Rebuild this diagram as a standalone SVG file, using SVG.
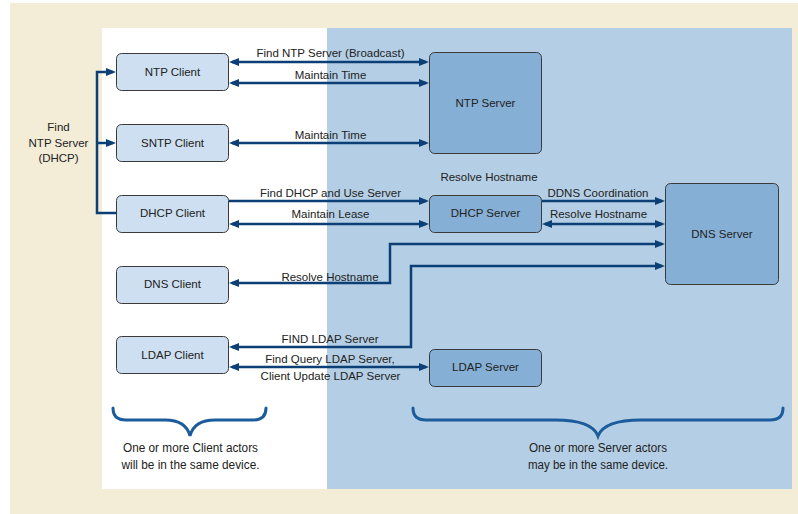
<svg xmlns="http://www.w3.org/2000/svg" width="798" height="514" viewBox="0 0 798 514">
<defs>
<marker id="ah" markerUnits="userSpaceOnUse" markerWidth="11" markerHeight="9" refX="7" refY="4" orient="auto-start-reverse" viewBox="0 0 11 9">
<path d="M0,0 L10,4 L0,8 z" fill="#0b3f75"/>
</marker>
<style>
.node rect{stroke:#3a3a3a;stroke-width:1}
.client rect{fill:#cddff0}
.server rect{fill:#85afd5}
text{font-family:"Liberation Sans",Arial,sans-serif;font-size:11.5px;fill:#222;text-anchor:middle}
.conn path{fill:none;stroke:#0b3f75;stroke-width:2.5}
.ar{marker-end:url(#ah)}
.ar2{marker-start:url(#ah);marker-end:url(#ah)}
.brace{fill:none;stroke:#1c5c9c;stroke-width:3;stroke-linecap:round}
.note{font-size:12px}
</style>
</defs>
<rect x="10" y="3" width="788" height="511" fill="#f3ecd7"/>
<rect x="102" y="28" width="225" height="461" fill="#ffffff"/>
<rect x="327" y="28" width="465" height="461" fill="#b4cfe5"/>

<g id="connectors" class="conn">
<path class="ar2" d="M232,62 H426"/>
<path class="ar2" d="M232,83 H426"/>
<path class="ar2" d="M232,143 H426"/>
<path class="ar" d="M229,201 H426"/>
<path class="ar2" d="M232,224 H426"/>
<path class="ar" d="M116,213 H97 V72 H113"/>
<path class="ar" d="M97,143 H113"/>
<path class="ar" d="M542,201 H662"/>
<path class="ar2" d="M545,224 H662"/>
<path class="ar2" d="M662,244 H390 V283 H232"/>
<path class="ar2" d="M662,266 H411 V347 H232"/>
<path class="ar2" d="M232,367 H426"/>
</g>

<g id="connector-labels">
<text x="330.5" y="57">Find NTP Server (Broadcast)</text>
<text x="330.5" y="79">Maintain Time</text>
<text x="330.5" y="139">Maintain Time</text>
<text x="330.5" y="197">Find DHCP and Use Server</text>
<text x="330.5" y="218">Maintain Lease</text>
<text x="489" y="181">Resolve Hostname</text>
<text x="598" y="197">DDNS Coordination</text>
<text x="598.5" y="218">Resolve Hostname</text>
<text x="330" y="281">Resolve Hostname</text>
<text x="330" y="343">FIND LDAP Server</text>
<text x="330" y="363">Find Query LDAP Server,</text>
<text x="330.5" y="380">Client Update LDAP Server</text>
<text x="58.5" y="131">Find</text>
<text x="58.5" y="147">NTP Server</text>
<text x="58.5" y="162">(DHCP)</text>
</g>

<g id="ntp-client" class="node client"><rect x="116.5" y="53.5" width="112" height="37" rx="5"/><text x="172.5" y="76">NTP Client</text></g>
<g id="sntp-client" class="node client"><rect x="116.5" y="124.5" width="112" height="37" rx="5"/><text x="172.5" y="147">SNTP Client</text></g>
<g id="dhcp-client" class="node client"><rect x="116.5" y="195.5" width="112" height="37" rx="5"/><text x="172.5" y="217">DHCP Client</text></g>
<g id="dns-client" class="node client"><rect x="116.5" y="266.5" width="112" height="37" rx="5"/><text x="172.5" y="288">DNS Client</text></g>
<g id="ldap-client" class="node client"><rect x="116.5" y="336.5" width="112" height="37" rx="5"/><text x="172.5" y="359">LDAP Client</text></g>

<g id="ntp-server" class="node server"><rect x="429.5" y="52.5" width="112" height="101" rx="5"/><text x="485.5" y="107">NTP Server</text></g>
<g id="dhcp-server" class="node server"><rect x="429.5" y="195.5" width="112" height="37" rx="5"/><text x="485.5" y="217">DHCP Server</text></g>
<g id="dns-server" class="node server"><rect x="665.5" y="183.5" width="113" height="101" rx="5"/><text x="722" y="238">DNS Server</text></g>
<g id="ldap-server" class="node server"><rect x="429.5" y="349.5" width="112" height="37" rx="5"/><text x="485.5" y="371">LDAP Server</text></g>

<g id="client-brace">
<path class="brace" d="M113,408 Q113,420 126,420 L165,420 Q186,420 190,436 Q194,420 215,420 L253,420 Q266,420 266,408"/>
<text class="note" x="190.5" y="452" textLength="135" lengthAdjust="spacingAndGlyphs">One or more Client actors</text>
<text class="note" x="190.5" y="469" textLength="138" lengthAdjust="spacingAndGlyphs">will be in the same device.</text>
</g>
<g id="server-brace">
<path class="brace" d="M413,408 Q413,420 426,420 L555,420 Q592,420 598,436 Q604,420 641,420 L770,420 Q783,420 783,408"/>
<text class="note" x="598" y="452" textLength="138" lengthAdjust="spacingAndGlyphs">One or more Server actors</text>
<text class="note" x="598" y="469" textLength="140" lengthAdjust="spacingAndGlyphs">may be in the same device.</text>
</g>
</svg>
